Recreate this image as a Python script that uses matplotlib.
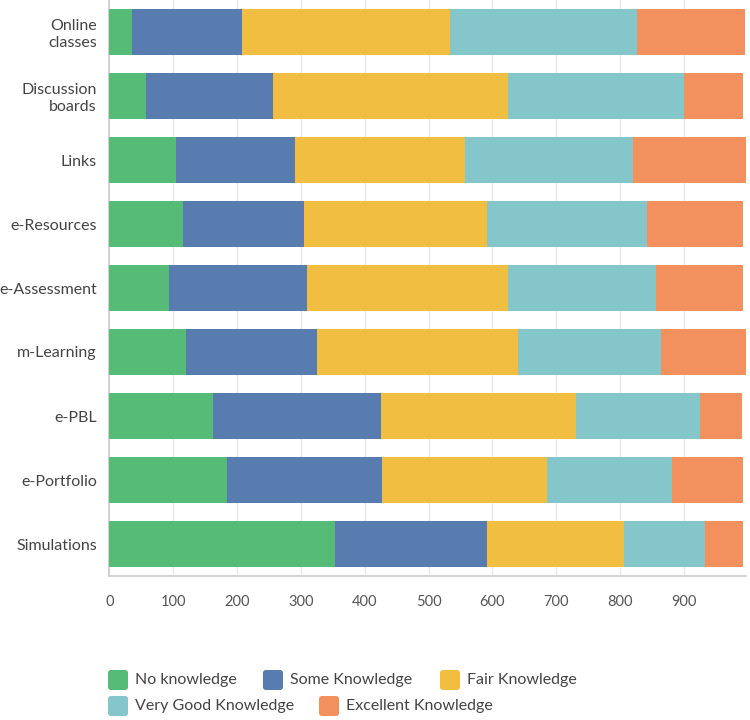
import matplotlib
matplotlib.use("Agg")
import matplotlib.pyplot as plt
from matplotlib.patches import FancyBboxPatch
import numpy as np

plt.rcParams['font.family'] = ['Lato', 'DejaVu Sans']

categories = ["Online\nclasses", "Discussion\nboards", "Links", "e-Resources",
              "e-Assessment", "m-Learning", "e-PBL", "e-Portfolio", "Simulations"]
series_names = ["No knowledge", "Some Knowledge", "Fair Knowledge",
                "Very Good Knowledge", "Excellent Knowledge"]
no_knowledge = [35, 57, 105, 115, 93, 120, 162, 185, 353]
some_knowledge = [172, 200, 186, 190, 216, 205, 263, 242, 238]
fair_knowledge = [326, 368, 266, 286, 316, 316, 306, 258, 215]
very_good_knowledge = [294, 276, 264, 252, 232, 224, 195, 196, 127]
excellent_knowledge = [169, 91, 176, 149, 135, 132, 65, 111, 60]
x_ticks = [0, 100, 200, 300, 400, 500, 600, 700, 800, 900]

colors = ["#57BB78", "#597CB0", "#F2BE42", "#84C6CA", "#F2915E"]
series = [no_knowledge, some_knowledge, fair_knowledge, very_good_knowledge, excellent_knowledge]

fig = plt.figure(figsize=(7.5, 7.2), dpi=100)
ax = fig.add_axes([109.4 / 750, 1 - 576 / 720, 636.3 / 750, 576 / 720])

y = np.arange(len(categories))
left = np.zeros(len(categories))
for vals, col, name in zip(series, colors, series_names):
    ax.barh(y, vals, left=left, height=0.72, color=col, label=name, zorder=3)
    left += np.array(vals)

ax.set_ylim(len(categories) - 0.5, -0.5)
ax.set_xlim(0, 997)
ax.set_yticks(y)
ax.set_yticklabels(categories, fontsize=11.5, color="#444444", linespacing=1.2)
ax.set_xticks(x_ticks)
ax.set_xticklabels([str(t) for t in x_ticks], fontsize=10.5, color="#555555")
ax.tick_params(axis='both', length=0)
ax.tick_params(axis='y', pad=9)
ax.tick_params(axis='x', pad=14)
ax.grid(axis='x', color="#e6e6e6", linewidth=1, zorder=0)
for s in ['top', 'right']:
    ax.spines[s].set_visible(False)
for s in ['left', 'bottom']:
    ax.spines[s].set_color("#cccccc")
    ax.spines[s].set_linewidth(1.2)

# legend (flow layout)
legend_pos = [(108, 680), (263, 680), (440, 680), (108, 706), (319, 706)]
for (px, py), col, name in zip(legend_pos, colors, series_names):
    fx, fy = px / 750, 1 - py / 720
    w, h = 20 / 750, 20 / 720
    fig.patches.append(FancyBboxPatch((fx, fy - h / 2), w, h,
                                      boxstyle="round,pad=0,rounding_size=0.004",
                                      transform=fig.transFigure, facecolor=col,
                                      edgecolor="none"))
    fig.text(fx + 27 / 750, fy, name, fontsize=11.5, color="#444444",
             va='center', ha='left')

fig.savefig("out.png", dpi=100, facecolor="white")
